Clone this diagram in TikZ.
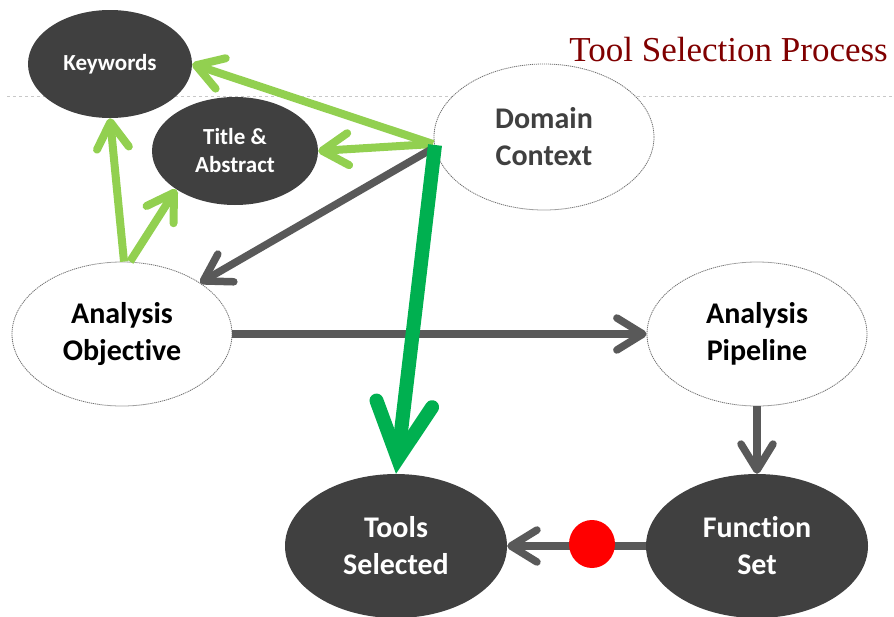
\documentclass[tikz,border=0pt]{standalone}
\usepackage{fontspec}
\setmainfont{Carlito}[Ligatures=NoCommon]
\newfontfamily\titlefont{Liberation Serif}
\usetikzlibrary{arrows.meta,shapes.geometric}
\definecolor{dkfill}{HTML}{404040}
\definecolor{lgreen}{HTML}{92D050}
\definecolor{dgreen}{HTML}{00B050}
\definecolor{agray}{HTML}{595959}
\definecolor{titlered}{HTML}{800000}
\definecolor{dashgray}{HTML}{C8C8C8}
\definecolor{dctext}{HTML}{404040}
\definecolor{bordergray}{HTML}{707070}
\begin{document}
\begin{tikzpicture}[x=1pt,y=-1pt,
  darkell/.style={ellipse, fill=dkfill, text=white, inner sep=0pt, align=center},
  whiteell/.style={ellipse, fill=white, draw=bordergray, dash pattern=on 1.2pt off 0.8pt, line width=0.8pt, inner sep=0pt, align=center},
  bigtxt/.style={font=\bfseries\fontsize{30}{37}\selectfont},
  smalltxt/.style={font=\bfseries\fontsize{23}{28}\selectfont},
  lgarrow/.style={draw=lgreen, line width=8pt, -{Straight Barb[length=26pt,width=32pt,round]}},
  grarrow/.style={draw=agray, line width=7.5pt, -{Straight Barb[length=26pt,width=32pt,round]}},
  bigarrow/.style={draw=dgreen, line width=14pt, -{Straight Barb[length=55pt,width=56pt,line cap=round,line join=miter]}}
]
\useasboundingbox (0,0) rectangle (894,616);
% dashed guide line
\draw[dashgray, dashed, line width=0.8pt] (7,96) -- (894,96);
% title
\node[anchor=base east, text=titlered, inner sep=0pt, font=\titlefont\fontsize{35}{40}\selectfont] (title) at (888,61) {Tool Selection Process};
% nodes
\node[darkell, smalltxt, minimum width=164pt, minimum height=108pt] (kw) at (110,64) {Keywords};
\node[darkell, smalltxt, minimum width=166pt, minimum height=108pt] (ta) at (235,151) {Title \&\\Abstract};
\node[whiteell, bigtxt, text=dctext, minimum width=220pt, minimum height=146pt] (dc) at (544,137) {Domain\\Context};
\node[whiteell, bigtxt, text=black, minimum width=220pt, minimum height=144pt] (ao) at (122,334) {Analysis\\Objective};
\node[whiteell, bigtxt, text=black, minimum width=220pt, minimum height=144pt] (ap) at (757,334) {Analysis\\Pipeline};
\node[darkell, bigtxt, minimum width=222pt, minimum height=144pt] (ts) at (396,546) {Tools\\Selected};
\node[darkell, bigtxt, minimum width=222pt, minimum height=144pt] (fs) at (757,546) {Function\\Set};
% source points on Domain Context
\coordinate (src) at (433,144);
\coordinate (gsrc) at (430,150);
\coordinate (bsrc) at (435,145);
% light green arrows
\draw[lgarrow] (src) -- (kw.east);
\draw[lgarrow] (src) -- (ta.east);
\draw[lgarrow] ([xshift=2pt]ao.north) -- (kw.south);
\draw[lgarrow] ([xshift=8pt]ao.north) -- (ta.south west);
% gray arrows
\draw[grarrow] (gsrc) -- (ao.north east);
\draw[grarrow] (ao.east) -- (ap.west);
\draw[grarrow] (ap.south) -- (fs.north);
\draw[grarrow] (fs.west) -- (ts.east);
\node[ellipse, fill=red, inner sep=0pt, minimum width=46pt, minimum height=48pt] (rd) at (592,544) {};
% big green arrow
\draw[bigarrow] (bsrc) -- (ts.north);
\end{tikzpicture}
\end{document}
